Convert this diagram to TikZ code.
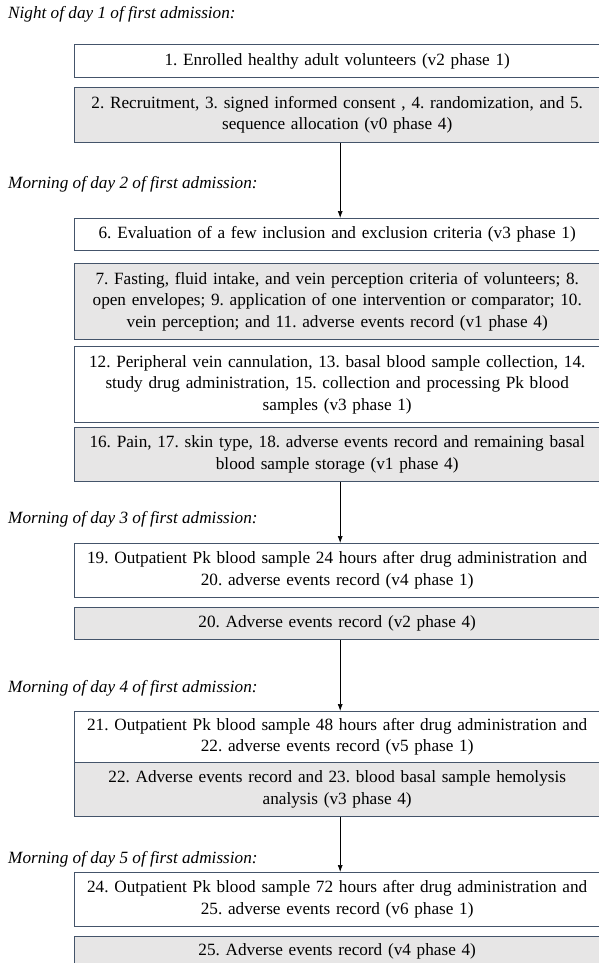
\documentclass[tikz,border=0pt]{standalone}
\usepackage{fontspec}
\setmainfont{Liberation Serif}
\usetikzlibrary{arrows.meta}
\definecolor{boxline}{HTML}{44546A}
\definecolor{boxgray}{HTML}{E7E6E6}
\frenchspacing
\begin{document}
\begin{tikzpicture}[x=1pt,y=-1pt,
  visit/.style={draw=boxline, line width=0.9pt, fill=white, anchor=north west,
    inner sep=0pt, text width=526.5pt, align=center,
    font=\fontsize{17.2}{21.5}\selectfont},
  visitgray/.style={visit, fill=boxgray},
  daylabel/.style={anchor=base west, inner sep=0pt,
    font=\fontsize{17.2}{20}\selectfont\itshape},
  flow/.style={-{Latex[length=7pt,width=5pt]}, line width=0.7pt}]
  \useasboundingbox (0,0) rectangle (598,963);

  \node[daylabel] (night1) at (8,19) {Night of day 1 of first admission:};
  \node[visit, minimum height=33pt] (b1) at (73.5,44)
    {1. Enrolled healthy adult volunteers (v2 phase 1)};
  \node[visitgray, minimum height=55pt] (b2) at (73.5,87)
    {2. Recruitment, 3. signed informed consent , 4. randomization, and 5.\\
     sequence allocation (v0 phase 4)};

  \node[daylabel] (morning2) at (8,188) {Morning of day 2 of first admission:};
  \node[visit, minimum height=32pt] (b6) at (73.5,218)
    {6. Evaluation of a few inclusion and exclusion criteria (v3 phase 1)};
  \node[visitgray, minimum height=76pt] (b7) at (73.5,263)
    {7. Fasting, fluid intake, and vein perception criteria of volunteers; 8.\\
     open envelopes; 9. application of one intervention or comparator; 10.\\
     vein perception; and 11. adverse events record (v1 phase 4)};
  \node[visit, minimum height=76pt] (b12) at (73.5,346)
    {12. Peripheral vein cannulation, 13. basal blood sample collection, 14.\\
     study drug administration, 15. collection and processing Pk blood\\
     samples (v3 phase 1)};
  \node[visitgray, minimum height=54pt] (b16) at (73.5,427)
    {16. Pain, 17. skin type, 18. adverse events record and remaining basal\\
     blood sample storage (v1 phase 4)};

  \node[daylabel] (morning3) at (8,523) {Morning of day 3 of first admission:};
  \node[visit, minimum height=54pt] (b19) at (73.5,543)
    {19. Outpatient Pk blood sample 24 hours after drug administration and\\
     20. adverse events record (v4 phase 1)};
  \node[visitgray, minimum height=32pt] (b20) at (73.5,607)
    {20. Adverse events record (v2 phase 4)};

  \node[daylabel] (morning4) at (8,692) {Morning of day 4 of first admission:};
  \node[visit, minimum height=51pt] (b21) at (73.5,711)
    {21. Outpatient Pk blood sample 48 hours after drug administration and\\
     22. adverse events record (v5 phase 1)};
  \node[visitgray, minimum height=54pt] (b22) at (73.5,762)
    {22. Adverse events record and 23. blood basal sample hemolysis\\
     analysis (v3 phase 4)};

  \node[daylabel] (morning5) at (8,863) {Morning of day 5 of first admission:};
  \node[visit, minimum height=54pt] (b24) at (73.5,872)
    {24. Outpatient Pk blood sample 72 hours after drug administration and\\
     25. adverse events record (v6 phase 1)};
  \node[visitgray, minimum height=30pt] (b25) at (73.5,936)
    {25. Adverse events record (v4 phase 4)};

  % arrows between the days
  \draw[flow] ([xshift=3pt]b2.south) -- ([xshift=3pt]b6.north);
  \draw[flow] ([xshift=3pt]b16.south) -- ([xshift=3pt]b19.north);
  \draw[flow] ([xshift=3pt]b20.south) -- ([xshift=3pt]b21.north);
  \draw[flow] ([xshift=3pt]b22.south) -- ([xshift=3pt]b24.north);
\end{tikzpicture}
\end{document}
